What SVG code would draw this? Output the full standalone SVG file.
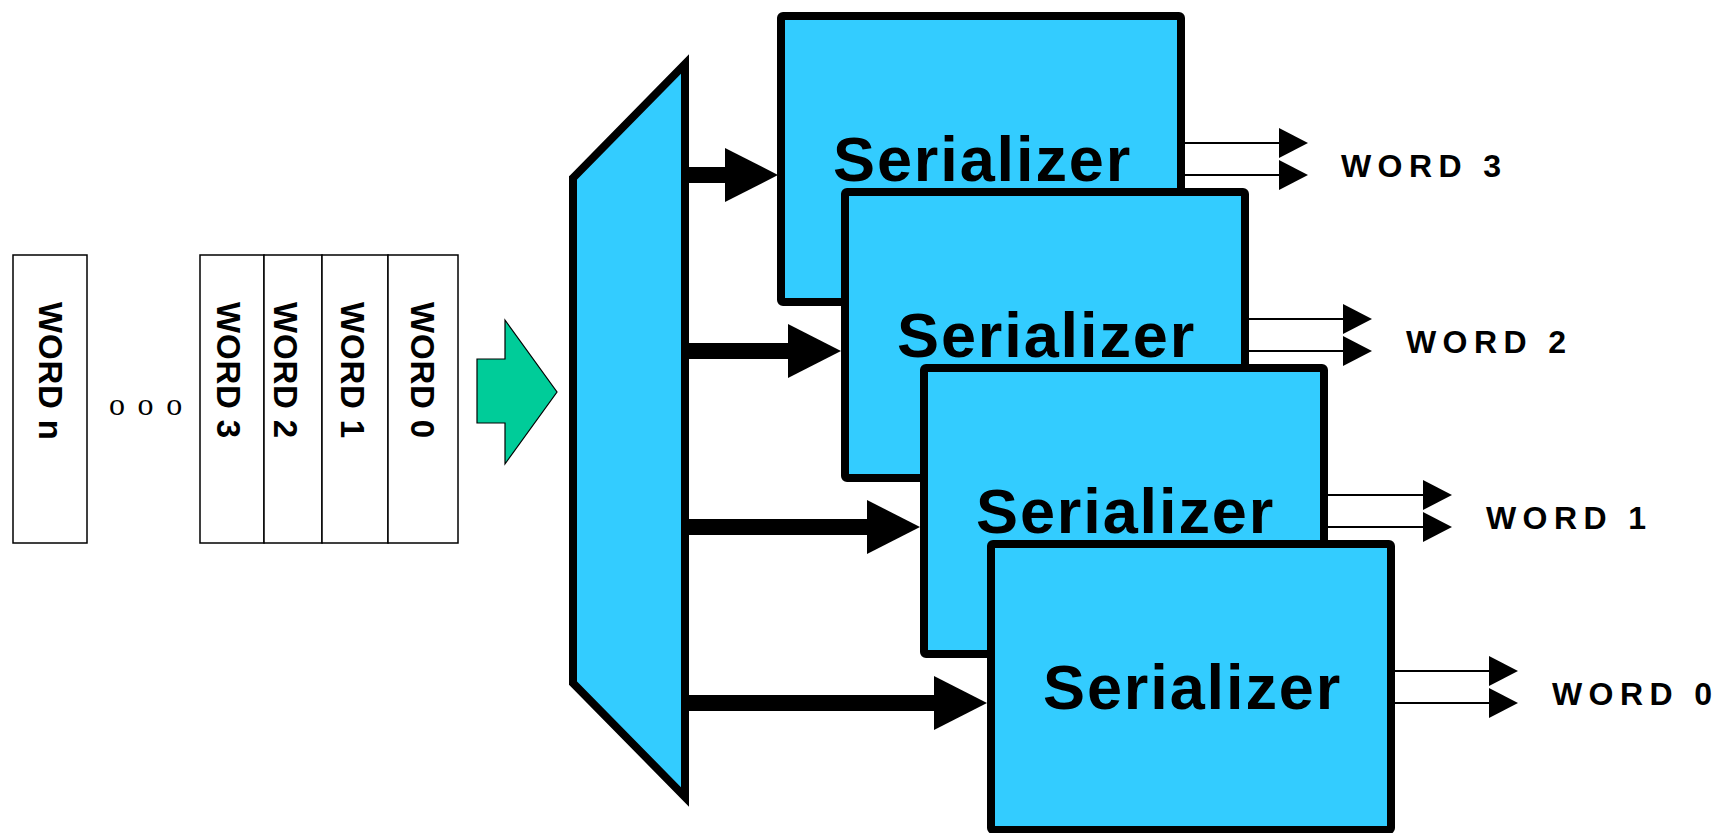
<svg xmlns="http://www.w3.org/2000/svg" width="1732" height="833" viewBox="0 0 1732 833">
<style>
.wbox{fill:#fff;stroke:#000;stroke-width:1.5}
.vt{font-family:"Liberation Sans",Arial,sans-serif;font-weight:bold;font-size:33px;letter-spacing:0.8px;fill:#000}
.dots{font-family:"Liberation Serif","Times New Roman",serif;font-size:32px;letter-spacing:2.3px;fill:#000}
.ser{fill:#33CCFF;stroke:#000;stroke-width:8}
.st{font-family:"Liberation Sans",Arial,sans-serif;font-weight:bold;font-size:63px;letter-spacing:1.9px;fill:#000}
.lbl{font-family:"Liberation Sans",Arial,sans-serif;font-weight:bold;font-size:32px;letter-spacing:6.4px;fill:#000}
.thick{stroke:#000;stroke-width:16;fill:none}
.thin{stroke:#000;stroke-width:2;fill:none}
.head{fill:#000}
</style>
<rect width="1732" height="833" fill="#fff"/>
<g id="word-n">
<rect class="wbox" x="13" y="255" width="74" height="288"/>
<text class="vt" transform="translate(39,302) rotate(90)">WORD n</text>
</g>
<g id="ellipsis"><text class="dots" x="109" y="415">o o o</text></g>
<g id="word-stack">
<rect class="wbox" x="200" y="255" width="64" height="288"/>
<rect class="wbox" x="264" y="255" width="58" height="288"/>
<rect class="wbox" x="322" y="255" width="66" height="288"/>
<rect class="wbox" x="388" y="255" width="70" height="288"/>
<text class="vt" transform="translate(217,302) rotate(90)">WORD 3</text>
<text class="vt" transform="translate(274,302) rotate(90)">WORD 2</text>
<text class="vt" transform="translate(341,302) rotate(90)">WORD 1</text>
<text class="vt" transform="translate(411,302) rotate(90)">WORD 0</text>
</g>
<g id="input-arrow">
<polygon points="477,359 505,359 505,320 557,392 505,464 505,423 477,423" fill="#00CC99" stroke="#000" stroke-width="1.2"/>
</g>
<g id="demux">
<polygon points="573,178 685,64 685,797 573,683" fill="#33CCFF" stroke="#000" stroke-width="8"/>
</g>
<g id="connectors">
<line class="thick" x1="685" y1="175" x2="727" y2="175"/>
<polygon class="head" points="725,148 778,175 725,202"/>
<line class="thick" x1="685" y1="351" x2="790" y2="351"/>
<polygon class="head" points="788,324 841,351 788,378"/>
<line class="thick" x1="685" y1="527" x2="869" y2="527"/>
<polygon class="head" points="867,500 920,527 867,554"/>
<line class="thick" x1="685" y1="703" x2="936" y2="703"/>
<polygon class="head" points="934,676 987,703 934,730"/>
</g>
<g id="serializer-3">
<rect class="ser" x="781" y="16" width="400" height="286" rx="2"/>
<text class="st" x="833" y="181">Serializer</text>
<line class="thin" x1="1185" y1="143" x2="1280" y2="143"/>
<polygon class="head" points="1279,128 1308,143 1279,158"/>
<line class="thin" x1="1185" y1="175" x2="1280" y2="175"/>
<polygon class="head" points="1279,160 1308,175 1279,190"/>
<text class="lbl" x="1341" y="177">WORD 3</text>
</g>
<g id="serializer-2">
<rect class="ser" x="845" y="192" width="400" height="286" rx="2"/>
<text class="st" x="897" y="357">Serializer</text>
<line class="thin" x1="1249" y1="319" x2="1344" y2="319"/>
<polygon class="head" points="1343,304 1372,319 1343,334"/>
<line class="thin" x1="1249" y1="351" x2="1344" y2="351"/>
<polygon class="head" points="1343,336 1372,351 1343,366"/>
<text class="lbl" x="1406" y="353">WORD 2</text>
</g>
<g id="serializer-1">
<rect class="ser" x="924" y="368" width="400" height="286" rx="2"/>
<text class="st" x="976" y="533">Serializer</text>
<line class="thin" x1="1328" y1="495" x2="1424" y2="495"/>
<polygon class="head" points="1423,480 1452,495 1423,510"/>
<line class="thin" x1="1328" y1="527" x2="1424" y2="527"/>
<polygon class="head" points="1423,512 1452,527 1423,542"/>
<text class="lbl" x="1486" y="529">WORD 1</text>
</g>
<g id="serializer-0">
<rect class="ser" x="991" y="544" width="400" height="286" rx="2"/>
<text class="st" x="1043" y="709">Serializer</text>
<line class="thin" x1="1395" y1="671" x2="1490" y2="671"/>
<polygon class="head" points="1489,656 1518,671 1489,686"/>
<line class="thin" x1="1395" y1="703" x2="1490" y2="703"/>
<polygon class="head" points="1489,688 1518,703 1489,718"/>
<text class="lbl" x="1552" y="705">WORD 0</text>
</g>
</svg>
